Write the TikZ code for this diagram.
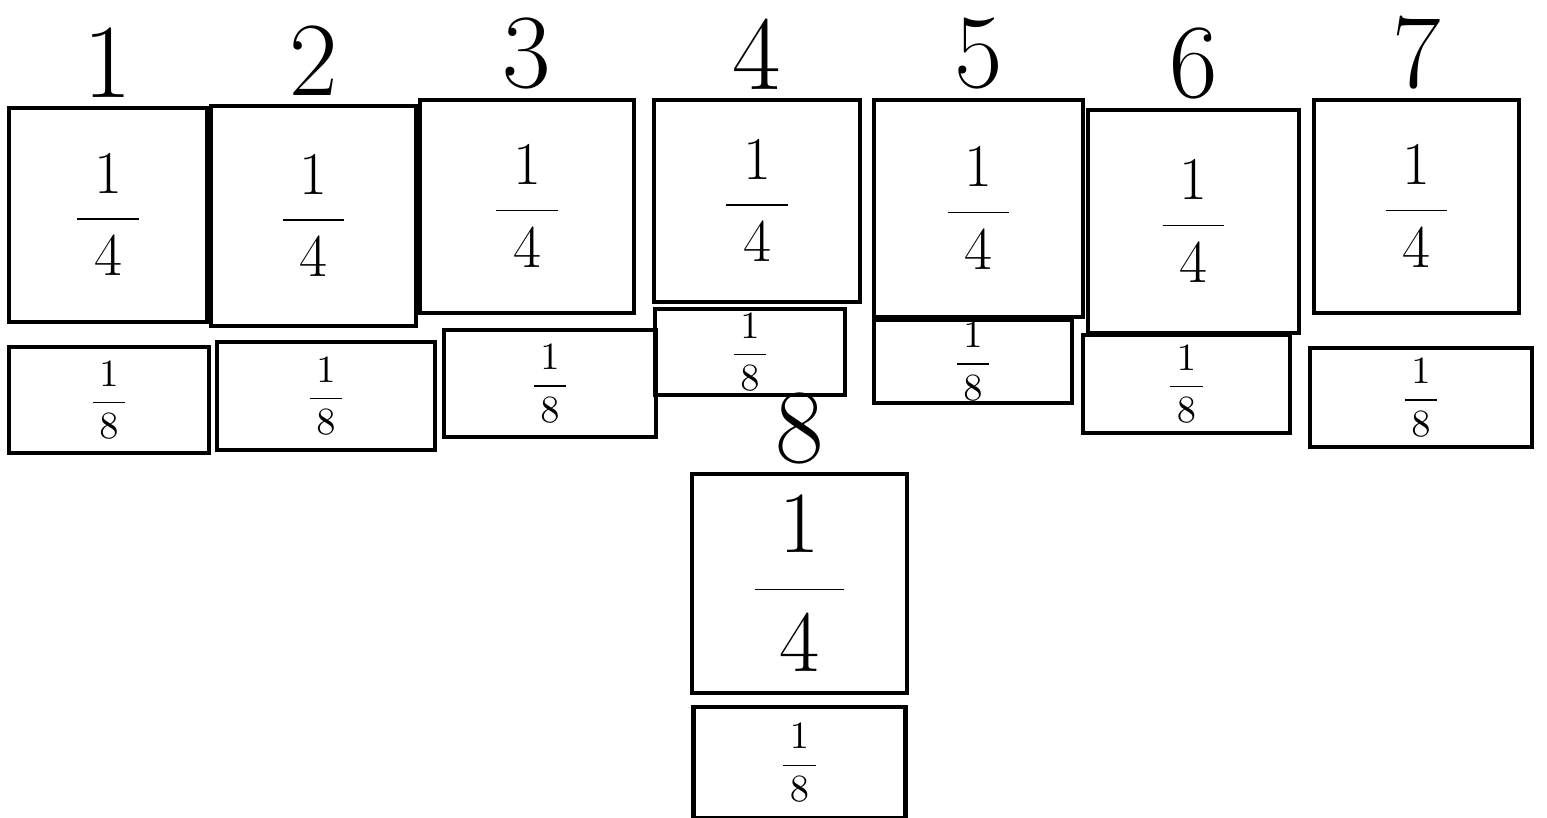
\documentclass[tikz,border=0pt]{standalone}
\usetikzlibrary{positioning}
\tikzset{
  cell/.style={draw, line width=1.2pt, inner sep=0pt, minimum width=#1},
  bigfrac/.style={font=\fontsize{16}{18}\selectfont},
  smallfrac/.style={font=\fontsize{11}{13}\selectfont},
  numlabel/.style={font=\fontsize{30}{34}\selectfont, inner sep=0pt}
}
\newcommand{\quarter}{$\displaystyle\frac{\;1\;}{\;4\;}$}
\newcommand{\eighth}{$\displaystyle\frac{\,1\,}{\,8\,}$}
\begin{document}
\begin{tikzpicture}
  \useasboundingbox (0,0) rectangle (15.47,-8.18);
  % top row: one quarter box per column, numbered above
  \foreach \n/\x/\y/\w/\h in {1/1.08/-2.15/1.98/2.14, 2/3.135/-2.16/2.05/2.20,
      3/5.27/-2.065/2.14/2.13, 4/7.57/-2.01/2.06/2.02, 5/9.785/-2.085/2.09/2.17,
      6/11.935/-2.215/2.11/2.23, 7/14.165/-2.065/2.05/2.13}{
    \node[cell=\w cm, minimum height=\h cm, bigfrac] (big\n) at (\x,\y) {\quarter};
    \node[numlabel, above=0.08 of big\n] (num\n) {\n};
  }
  % eighth boxes under each column
  \foreach \n/\x/\y/\w/\h in {1/1.09/-4.00/2.00/1.06, 2/3.26/-3.96/2.18/1.08,
      3/5.50/-3.835/2.12/1.07, 4/7.50/-3.52/1.90/0.86, 5/9.73/-3.615/1.98/0.83,
      6/11.865/-3.84/2.07/0.98, 7/14.21/-3.975/2.22/0.99}{
    \node[cell=\w cm, minimum height=\h cm, smallfrac] (small\n) at (\x,\y) {\eighth};
  }
  % column 8 hangs below column 4
  \node[cell=2.15cm, minimum height=2.19cm, font=\fontsize{26}{30}\selectfont]
    (big8) at (7.995,-5.835) {\quarter};
  \node[numlabel, above=0.07 of big8] (num8) {8};
  \node[cell=2.12cm, minimum height=1.11cm, smallfrac, below=0.1 of big8]
    (small8) {\eighth};
\end{tikzpicture}
\end{document}
